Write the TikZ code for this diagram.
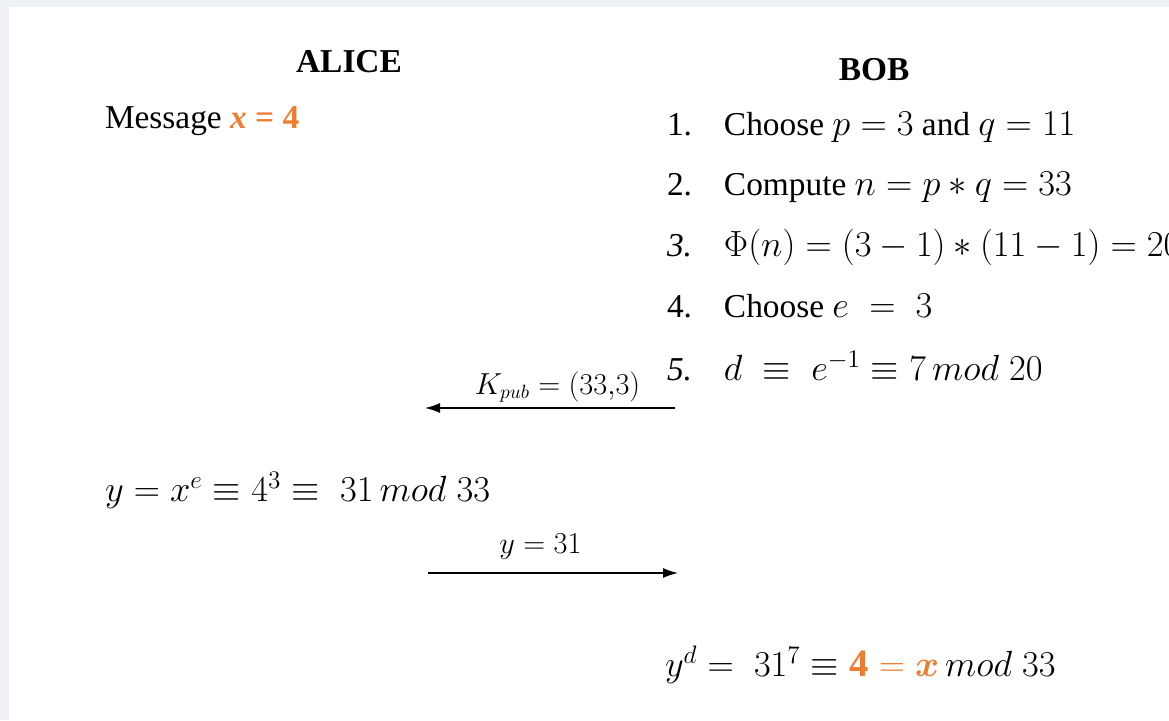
\documentclass[tikz,border=0pt]{standalone}
\usepackage{amsmath,amssymb}
\usepackage{fontspec}
\setmainfont{Liberation Serif}
\usepackage{xcolor}
\usepackage{tikz}
\usetikzlibrary{arrows.meta}
\definecolor{keyorange}{HTML}{ED7D31}
\definecolor{slidebg}{HTML}{EEF1F5}
\newcommand{\hl}[1]{{\color{keyorange}#1}}
\newcommand{\mth}[1]{{\fontsize{22}{24}\selectfont$#1$}}

\begin{document}
\begin{tikzpicture}[
      x=0.02cm, y=-0.02cm,
      every node/.style={inner sep=0pt, outer sep=0pt},
      txt/.style={anchor=west, font=\fontsize{19}{22}\selectfont},
      head/.style={font=\fontsize{19}{22}\selectfont\bfseries},
      lbl/.style={font=\fontsize{16}{19}\selectfont},
      arr/.style={-{Latex[length=3mm, width=2mm]}, line width=0.8pt}]
    \useasboundingbox (0,0) rectangle (1169,720);
    \fill[slidebg] (0,0) rectangle (1169,720);
    \fill[white] (9,7) rectangle (1169,720);
    % the two parties
    \node[head] (alice) at (349,62) {ALICE};
    \node[head] (bob) at (874,70) {BOB};
    \node[txt] (msg) at (105,121) {Message \hl{\textbf{\textit{x} = 4}}};
    % Bob builds his key pair
    \node[txt] (step1) at (667,127) {\makebox[1.14cm][l]{1.}Choose \mth{p = 3} and \mth{q = 11}};
    \node[txt] (step2) at (667,187) {\makebox[1.14cm][l]{2.}Compute \mth{n = p * q = 33}};
    \node[txt] (step3) at (667,247) {\makebox[1.14cm][l]{\textit{3.}}\mth{\Phi(n) = (3 - 1) * (11 - 1) = 20}};
    \node[txt] (step4) at (667,306) {\makebox[1.14cm][l]{4.}Choose \mth{e \;=\; 3}};
    \node[txt] (step5) at (667,366) {\makebox[1.14cm][l]{\textit{5.}}\mth{d \;\equiv\; e^{-1} \equiv 7\, mod\; 20}};
    % messages
    \coordinate (kpubR) at (675,408);
    \coordinate (kpubL) at (425,408);
    \draw[arr] (kpubR) -- node[lbl, pos=0.47, above=3pt] {$K_{pub} = (33{,}3)$} (kpubL);
    \node[txt] (enc) at (105,490) {\mth{y = x^e \equiv 4^3 \equiv\; 31\, mod\; 33}};
    \coordinate (yL) at (428,573);
    \coordinate (yR) at (678,573);
    \draw[arr] (yL) -- node[lbl, pos=0.45, above=8pt] {$y = 31$} (yR);
    \node[txt] (dec) at (665,665) {\mth{y^d =\; 31^7 \equiv \hl{\mathbf{4} = \boldsymbol{x}}\, mod\; 33}};
\end{tikzpicture}
\end{document}
